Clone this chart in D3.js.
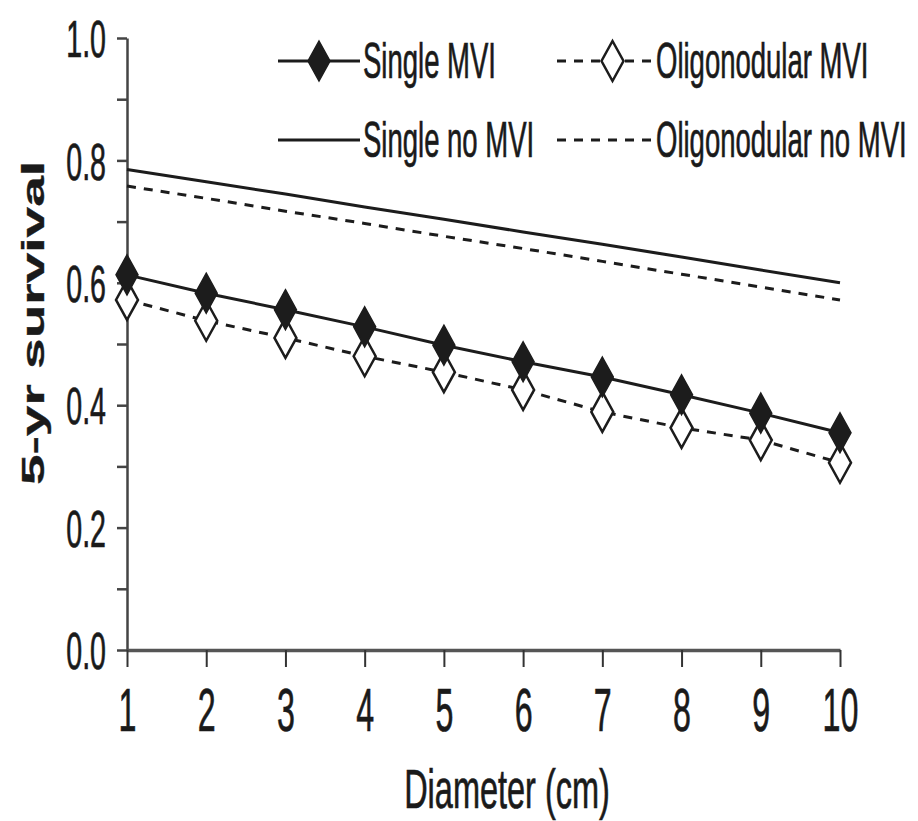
<!DOCTYPE html>
<html>
<head>
<meta charset="utf-8">
<script src="https://cdn.jsdelivr.net/npm/d3@7"></script>
<style>
  html, body { margin: 0; padding: 0; background: #fff; }
  svg { display: block; }
  text { font-family: "Liberation Sans", Arial, sans-serif; fill: #1a1a1a; stroke: #1a1a1a; stroke-width: 0.7px; }
</style>
</head>
<body>
<svg id="chart" width="918" height="821"></svg>
<script>
// Tumour diameter (cm) on the x axis
const diameters = [1, 2, 3, 4, 5, 6, 7, 8, 9, 10];

// Predicted 5-year survival per group
const singleMVI      = [0.613, 0.583, 0.556, 0.528, 0.498, 0.471, 0.446, 0.417, 0.387, 0.355];
const oligoMVI       = [0.572, 0.538, 0.510, 0.480, 0.454, 0.425, 0.389, 0.363, 0.343, 0.306];
const singleNoMVI    = [0.785, 0.765, 0.745, 0.724, 0.704, 0.683, 0.663, 0.642, 0.621, 0.600];
const oligoNoMVI     = [0.758, 0.738, 0.717, 0.697, 0.676, 0.656, 0.635, 0.614, 0.593, 0.572];

// Axis ticks
const yTicks = [0, 0.1, 0.2, 0.3, 0.4, 0.5, 0.6, 0.7, 0.8, 0.9, 1.0];
const yLabelled = [0, 0.2, 0.4, 0.6, 0.8, 1.0];
const xTicks = diameters;

const legendLabels = ["Single MVI", "Oligonodular MVI", "Single no MVI", "Oligonodular no MVI"];

const svg = d3.select("#chart");
const x = d3.scaleLinear().domain([1, 10]).range([127, 840]);
const y = d3.scaleLinear().domain([0, 1]).range([650, 38]);

const INK = "#1c1c1c";
const SX = 0.55; // horizontal condensing applied to text glyphs

// --- Y axis
const yAxis = d3.axisLeft(y)
  .tickValues(yTicks)
  .tickSize(10)
  .tickSizeOuter(0)
  .tickFormat(d => yLabelled.some(v => Math.abs(v - d) < 1e-9) ? d3.format(".1f")(d) : "");
const gy = svg.append("g").attr("transform", `translate(${x(1)},0)`).call(yAxis);
gy.select(".domain").attr("stroke", "#444").attr("stroke-width", 2.5);
gy.selectAll(".tick line").attr("stroke", "#444").attr("stroke-width", 2.5);
gy.selectAll(".tick text")
  .attr("font-size", 52)
  .attr("font-family", "Liberation Sans, Arial, sans-serif")
  .attr("fill", INK)
  .attr("transform", `scale(${SX},1)`)
  .attr("x", -21 / SX)
  .attr("dy", "0.36em");

// --- X axis
const xAxis = d3.axisBottom(x)
  .tickValues(xTicks)
  .tickSize(17)
  .tickSizeOuter(0)
  .tickFormat(d3.format("d"));
const gx = svg.append("g").attr("transform", `translate(0,${y(0)})`).call(xAxis);
gx.select(".domain").attr("stroke", "#555").attr("stroke-width", 3.5);
gx.selectAll(".tick line").attr("stroke", "#333").attr("stroke-width", 2);
gx.selectAll(".tick text")
  .attr("font-size", 62)
  .attr("font-family", "Liberation Sans, Arial, sans-serif")
  .attr("fill", INK)
  .attr("transform", `scale(0.52,1)`)
  .attr("y", 81)
  .attr("dy", 0);

// --- Axis titles
svg.append("text")
  .attr("transform", `translate(507,808) scale(0.58,1)`)
  .attr("text-anchor", "middle")
  .attr("font-size", 56)
  .text("Diameter (cm)");

svg.append("text")
  .attr("transform", `translate(44,323) rotate(-90) scale(1.72,1)`)
  .attr("text-anchor", "middle")
  .attr("font-size", 32)
  .attr("font-weight", "bold")
  .style("stroke-width", "0.3px")
  .text("5-yr survival");

// --- Series lines
const line = d3.line().x((d, i) => x(diameters[i])).y(d => y(d));
const series = [
  { values: singleNoMVI, dash: null },
  { values: oligoNoMVI,  dash: "9,8" },
  { values: oligoMVI,    dash: "9,8" },
  { values: singleMVI,   dash: null }
];
svg.append("g").selectAll("path")
  .data(series)
  .join("path")
  .attr("d", s => line(s.values))
  .attr("fill", "none")
  .attr("stroke", INK)
  .attr("stroke-width", 3)
  .attr("stroke-dasharray", s => s.dash);

// --- Diamond markers
const HW = 11, HH = 20;
const diamond = `M0,${-HH} L${HW},0 L0,${HH} L${-HW},0 Z`;

svg.append("g").selectAll("path")
  .data(oligoMVI)
  .join("path")
  .attr("d", diamond)
  .attr("transform", (d, i) => `translate(${x(diameters[i])},${y(d)})`)
  .attr("fill", "#fff")
  .attr("stroke", INK)
  .attr("stroke-width", 2.5);

svg.append("g").selectAll("path")
  .data(singleMVI)
  .join("path")
  .attr("d", diamond)
  .attr("transform", (d, i) => `translate(${x(diameters[i])},${y(d)})`)
  .attr("fill", INK)
  .attr("stroke", INK)
  .attr("stroke-width", 1.5);

// --- Legend
const legend = [
  { label: legendLabels[0], x0: 278, x1: 360, yy: 61, dash: null,  marker: "filled", tx: 363 },
  { label: legendLabels[1], x0: 557, x1: 652, yy: 61, dash: "9,8", marker: "open",   tx: 656 },
  { label: legendLabels[2], x0: 278, x1: 360, yy: 140, dash: null, marker: null,     tx: 363 },
  { label: legendLabels[3], x0: 557, x1: 652, yy: 140, dash: "9,8", marker: null,    tx: 656 }
];
const lg = svg.append("g").selectAll("g").data(legend).join("g");
lg.append("line")
  .attr("x1", d => d.x0).attr("x2", d => d.x1)
  .attr("y1", d => d.yy).attr("y2", d => d.yy)
  .attr("stroke", INK).attr("stroke-width", 3)
  .attr("stroke-dasharray", d => d.dash);
lg.filter(d => d.marker)
  .append("path")
  .attr("d", diamond)
  .attr("transform", d => `translate(${(d.x0 + d.x1) / 2 + (d.marker === "open" ? 8 : 0)},${d.yy})`)
  .attr("fill", d => d.marker === "filled" ? INK : "#fff")
  .attr("stroke", INK)
  .attr("stroke-width", d => d.marker === "filled" ? 1.5 : 2.5);
lg.append("text")
  .attr("transform", d => `translate(${d.tx},${d.yy + 17}) scale(${SX},1)`)
  .attr("font-size", 50)
  .text(d => d.label);
</script>
</body>
</html>
